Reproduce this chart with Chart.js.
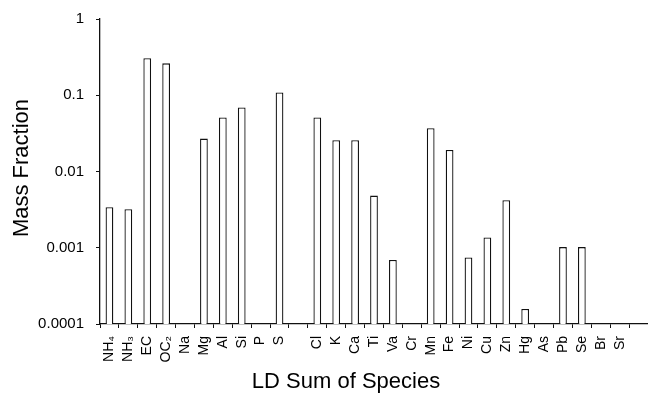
<!DOCTYPE html>
<html>
<head>
<meta charset="utf-8">
<script src="https://cdn.jsdelivr.net/npm/chart.js@4"></script>
<style>
  body { margin: 0; background: #fff; }
  canvas { display: block; }
</style>
</head>
<body>
<canvas id="chart" width="648" height="394"></canvas>
<script>
// species along the x axis (blank slots are gaps in the original figure)
const species = ['NH₄', 'NH₃', 'EC', 'OC₂', 'Na', 'Mg', 'Al', 'Si', 'P', 'S', '',
    'Cl', 'K', 'Ca', 'Ti', 'Va', 'Cr', 'Mn', 'Fe', 'Ni', 'Cu', 'Zn', 'Hg', 'As',
    'Pb', 'Se', 'Br', 'Sr', ''];

// LD sum mass fractions (null = no bar)
const massFraction = [0.0034, 0.0032, 0.305, 0.262, null, 0.027, 0.051, 0.069, null, 0.109, null,
    0.051, 0.0257, 0.0257, 0.00483, 0.00069, null, 0.0369, 0.0192, 0.000745, 0.00136, 0.0042, 0.000157, null,
    0.00102, 0.00102, null, null, null];

const yTicks = [0.0001, 0.001, 0.01, 0.1, 1];

const fontFamily = 'Arial, "Liberation Sans", Helvetica, sans-serif';

// axis titles drawn by hand so they can sit where the original has them
const axisTitles = {
    id: 'axisTitles',
    afterDraw(chart) {
        const ctx = chart.ctx;
        ctx.save();
        ctx.fillStyle = '#000';
        ctx.font = '22px ' + fontFamily;
        ctx.textAlign = 'center';
        ctx.textBaseline = 'middle';
        ctx.fillText('LD Sum of Species', 346, 382);
        ctx.translate(22, 168);
        ctx.rotate(-Math.PI / 2);
        ctx.fillText('Mass Fraction', 0, 0);
        ctx.restore();
    }
};

new Chart(document.getElementById('chart'), {
    type: 'bar',
    data: {
        labels: species,
        datasets: [{
            data: massFraction,
            backgroundColor: '#fff',
            borderColor: '#111',
            borderWidth: 1.3,
            borderSkipped: 'bottom',
            categoryPercentage: 1,
            barPercentage: 0.41
        }]
    },
    options: {
        responsive: false,
        animation: false,
        layout: { padding: { top: 19, right: 0, left: 0, bottom: 0 } },
        plugins: {
            legend: { display: false },
            tooltip: { enabled: false }
        },
        scales: {
            x: {
                offset: true,
                border: { display: true, color: '#111', width: 1.3 },
                grid: {
                    display: true,
                    offset: true,
                    drawOnChartArea: false,
                    drawTicks: true,
                    tickLength: 4,
                    tickWidth: 1,
                    tickColor: '#111'
                },
                ticks: {
                    autoSkip: false,
                    minRotation: 90,
                    maxRotation: 90,
                    padding: 8,
                    color: '#000',
                    font: { family: fontFamily, size: 14 }
                },
                afterFit(scale) {
                    scale.height = 70;
                    scale.paddingLeft = 0;
                    scale.paddingRight = 0;
                }
            },
            y: {
                type: 'logarithmic',
                min: 0.0001,
                max: 1,
                border: { display: true, color: '#111', width: 1.3 },
                grid: {
                    display: true,
                    drawOnChartArea: false,
                    drawTicks: true,
                    tickLength: 4,
                    tickColor: '#111'
                },
                afterBuildTicks(scale) {
                    scale.ticks = yTicks.map(v => ({ value: v }));
                },
                ticks: {
                    padding: 12,
                    color: '#000',
                    font: { family: fontFamily, size: 15 },
                    callback: v => String(v)
                },
                afterFit(scale) {
                    scale.width = 100;
                    scale.paddingTop = 0;
                    scale.paddingBottom = 0;
                }
            }
        }
    },
    plugins: [axisTitles]
});
</script>
</body>
</html>
